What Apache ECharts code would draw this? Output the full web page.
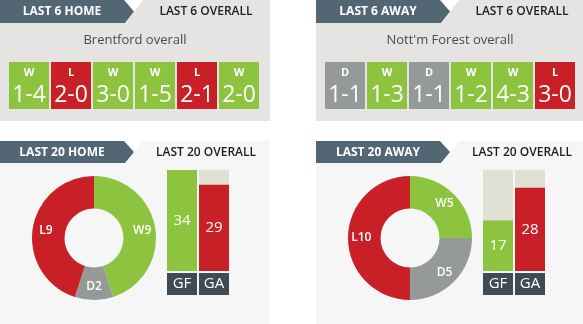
<!DOCTYPE html>
<html>
<head>
<meta charset="utf-8">
<script src="https://cdn.jsdelivr.net/npm/echarts@6/dist/echarts.min.js"></script>
<style>
html,body{margin:0;padding:0;background:#fff;}
#c{width:583px;height:324px;}
</style>
</head>
<body>
<div id="c"></div>
<script>
// ---- data ----
const homeTeamTitle = 'Brentford overall';
const awayTeamTitle = "Nott'm Forest overall";
const topTabs = ['LAST 6 HOME', 'LAST 6 OVERALL', 'LAST 6 AWAY', 'LAST 6 OVERALL'];
const bottomTabs = ['LAST 20 HOME', 'LAST 20 OVERALL', 'LAST 20 AWAY', 'LAST 20 OVERALL'];
const homeResults = ['W', 'L', 'W', 'W', 'L', 'W'];
const homeScores = ['1-4', '2-0', '3-0', '1-5', '2-1', '2-0'];
const awayResults = ['D', 'W', 'D', 'W', 'W', 'L'];
const awayScores = ['1-1', '1-3', '1-1', '1-2', '4-3', '3-0'];
const wdlNames = ['W', 'D', 'L'];
const homeWDL = [9, 2, 9];
const awayWDL = [5, 5, 10];
const goalCats = ['GF', 'GA'];
const homeGoals = [34, 29];
const awayGoals = [17, 28];

// ---- styles ----
const C = { W: '#8cc43f', D: '#959a98', L: '#c91f27' };
const FONT = '"Open Sans", Arial, sans-serif';
const TAB_DARK = '#536673';
const TOP_BG = '#e5e4e2';
const BOT_BG = '#f6f6f6';
const BAR_BG = '#e0e0d5';
const BOX_DARK = '#3e4b55';
const goalMax = Math.max(...homeGoals, ...awayGoals);

const chart = echarts.init(document.getElementById('c'), null, { renderer: 'canvas' });

function tabGroup(x0, y0, h, w, darkText, lightText, lightColor) {
  const tip = 134, top = 124, lightTop = 143;
  const mid = y0 + h / 2;
  return [
    { type: 'polygon', shape: { points: [[x0 + lightTop, y0], [x0 + w, y0], [x0 + w, y0 + h], [x0 + lightTop - 17, y0 + h]] }, style: { fill: lightColor }, silent: true },
    { type: 'polygon', shape: { points: [[x0, y0], [x0 + top, y0], [x0 + tip, mid], [x0 + top + 1, y0 + h], [x0, y0 + h]] }, style: { fill: TAB_DARK }, silent: true },
    { type: 'text', x: x0 + 62, y: mid + 0.5, style: { text: darkText, fill: '#fff', font: 'bold 12px ' + FONT, align: 'center', verticalAlign: 'middle' }, silent: true },
    { type: 'text', x: x0 + 206, y: mid + 0.5, style: { text: lightText, fill: '#1e1e1e', font: '600 12px ' + FONT, align: 'center', verticalAlign: 'middle' }, silent: true }
  ];
}

const graphics = [
  // top panels
  { type: 'rect', shape: { x: 0, y: 23, width: 270, height: 98 }, style: { fill: TOP_BG }, silent: true },
  { type: 'rect', shape: { x: 316, y: 23, width: 267, height: 98 }, style: { fill: TOP_BG }, silent: true },
  // bottom panels
  { type: 'rect', shape: { x: 0, y: 163, width: 270, height: 161 }, style: { fill: BOT_BG }, silent: true },
  { type: 'rect', shape: { x: 316, y: 163, width: 267, height: 161 }, style: { fill: BOT_BG }, silent: true },
  ...tabGroup(0, 0, 23, 270, topTabs[0], topTabs[1], TOP_BG),
  ...tabGroup(316, 0, 23, 267, topTabs[2], topTabs[3], TOP_BG),
  ...tabGroup(0, 141, 22, 270, bottomTabs[0], bottomTabs[1], BOT_BG),
  ...tabGroup(316, 141, 22, 267, bottomTabs[2], bottomTabs[3], BOT_BG),
  { type: 'text', x: 135, y: 40, style: { text: homeTeamTitle, fill: '#4a4a4a', font: '13px ' + FONT, align: 'center', verticalAlign: 'middle' }, silent: true },
  { type: 'text', x: 450, y: 40, style: { text: awayTeamTitle, fill: '#4a4a4a', font: '13px ' + FONT, align: 'center', verticalAlign: 'middle' }, silent: true }
];

function resultSeries(results, scores, idx) {
  return {
    type: 'bar', xAxisIndex: idx, yAxisIndex: idx, barWidth: 40, silent: true, z: 5,
    data: results.map((r, i) => ({ value: 1, itemStyle: { color: C[r] }, label: { formatter: '{a|' + r + '}\n{b|' + scores[i] + '}' } })),
    label: {
      show: true, position: 'inside', color: '#fff',
      rich: {
        a: { fontFamily: FONT, fontSize: 11, fontWeight: 'bold', color: '#fff', lineHeight: 20, align: 'center' },
        b: { fontFamily: FONT, fontSize: 23, color: '#fff', lineHeight: 26, align: 'center' }
      }
    }
  };
}

function goalSeries(vals, idx) {
  return {
    type: 'bar', xAxisIndex: idx, yAxisIndex: idx, barWidth: 30, silent: true, z: 5,
    showBackground: true, backgroundStyle: { color: BAR_BG },
    data: vals.map((v, i) => ({ value: v, itemStyle: { color: i === 0 ? C.W : C.L } })),
    label: { show: true, position: 'inside', color: '#fff', fontFamily: FONT, fontSize: 15 }
  };
}

function pieSeries(vals, cx) {
  return {
    type: 'pie', center: [cx, 238], radius: [29.5, 62], startAngle: 90, clockwise: true,
    silent: true, avoidLabelOverlap: false,
    label: { show: true, position: 'inside', color: '#fff', fontFamily: FONT, fontSize: 12, fontWeight: 600, formatter: p => p.name + p.value },
    labelLine: { show: false },
    itemStyle: { borderWidth: 0 },
    data: wdlNames.map((n, i) => ({ name: n, value: vals[i], itemStyle: { color: C[n] } }))
  };
}

const hiddenCat = (cats, gi) => ({ type: 'category', gridIndex: gi, data: cats, show: false });
const hiddenVal = (max, gi) => ({ type: 'value', gridIndex: gi, min: 0, max: max, show: false });
const goalX = gi => ({
  type: 'category', gridIndex: gi, data: goalCats,
  axisLine: { show: false }, axisTick: { show: false },
  axisLabel: {
    margin: 2, color: '#fff', fontFamily: FONT, fontSize: 15,
    backgroundColor: BOX_DARK, width: 30, height: 22, lineHeight: 22, align: 'center', verticalAlign: 'top'
  }
});

chart.setOption({
  animation: false,
  backgroundColor: '#fff',
  graphic: graphics,
  grid: [
    { left: 8, top: 62, width: 252, height: 47 },
    { left: 324, top: 62, width: 252, height: 47 },
    { left: 166, top: 170, width: 64, height: 101 },
    { left: 482, top: 170, width: 64, height: 101 }
  ],
  xAxis: [
    hiddenCat(homeResults.map((r, i) => i), 0),
    hiddenCat(awayResults.map((r, i) => i), 1),
    goalX(2), goalX(3)
  ],
  yAxis: [hiddenVal(1, 0), hiddenVal(1, 1), hiddenVal(goalMax, 2), hiddenVal(goalMax, 3)],
  series: [
    resultSeries(homeResults, homeScores, 0),
    resultSeries(awayResults, awayScores, 1),
    goalSeries(homeGoals, 2),
    goalSeries(awayGoals, 3),
    pieSeries(homeWDL, 94),
    pieSeries(awayWDL, 410)
  ]
});
</script>
</body>
</html>
